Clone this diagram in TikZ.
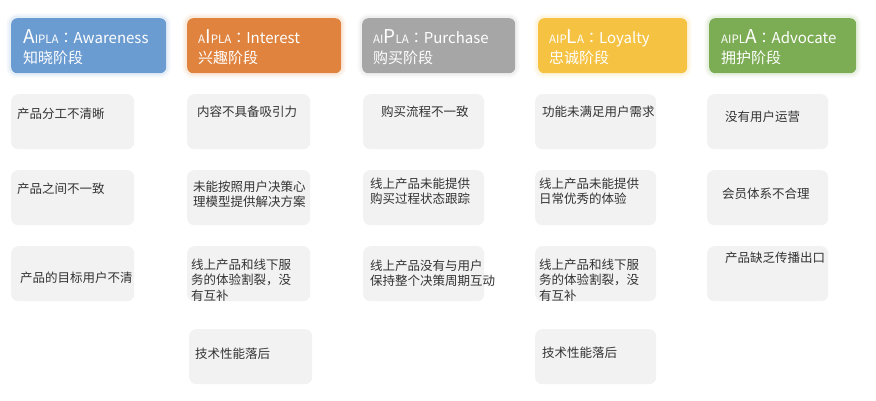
\documentclass[tikz,border=0pt]{standalone}
\usepackage{fontspec}
\setmainfont{Noto Sans CJK SC}
\newfontfamily\colonfont{Noto Sans CJK TC}
\usepackage{tikz}
\usetikzlibrary{positioning}
\definecolor{awareblue}{HTML}{6A9BD1}
\definecolor{interestorange}{HTML}{E0833F}
\definecolor{purchasegray}{HTML}{A6A6A6}
\definecolor{loyaltyyellow}{HTML}{F5C242}
\definecolor{advocategreen}{HTML}{7CAD54}
\definecolor{issuegray}{HTML}{F2F2F2}
\newcommand{\stagebig}[1]{{\fontsize{19}{20}\selectfont #1}}
\newcommand{\stagesmall}[1]{{\fontsize{11.5}{20}\selectfont #1}}
\newcommand{\stagecolon}{{\colonfont ：}}

\begin{document}
\begin{tikzpicture}[x=1pt,y=-1pt]

		\tikzset{%
			stage/.style     = {rectangle, rounded corners=6pt, fill=#1, minimum height=55pt,
				anchor=north west, inner sep=0,
				preaction={draw=#1, line width=9pt, opacity=.07},
				preaction={draw=#1, line width=5pt, opacity=.10}}, % Phase
			issue/.style     = {rectangle, rounded corners=7pt, fill=issuegray, minimum width=123pt,
				minimum height=55pt, anchor=north west, inner sep=0}, % Problem
			stagetext/.style = {anchor=north west, inner sep=0, align=left, text=white,
				font=\fontsize{15}{20}\selectfont},
			issuetext/.style = {anchor=north west, inner sep=0, align=left, text=black!80,
				font=\fontsize{12.5}{15.7}\selectfont}
		}

		\useasboundingbox (0,0) rectangle (876,400);

		% Phasen
		\node[stage=awareblue, minimum width=155pt] (aware) at (11,18) {};
		\node[stage=interestorange, minimum width=154pt] (interest) at (187,18) {};
		\node[stage=purchasegray, minimum width=153pt] (purchase) at (362,18) {};
		\node[stage=loyaltyyellow, minimum width=149pt] (loyalty) at (538,18) {};
		\node[stage=advocategreen, minimum width=147pt] (advocate) at (709,18) {};

		\node[stagetext] (awaretxt) at (23,29) {\stagebig{A}\stagesmall{IPLA}\stagecolon Awareness\\知晓阶段};
		\node[stagetext] (interesttxt) at (198,29) {\stagesmall{A}\stagebig{I}\stagesmall{PLA}\stagecolon Interest\\兴趣阶段};
		\node[stagetext] (purchasetxt) at (373,29) {\stagesmall{AI}\stagebig{P}\stagesmall{LA}\stagecolon Purchase\\购买阶段};
		\node[stagetext] (loyaltytxt) at (549,29) {\stagesmall{AIP}\stagebig{L}\stagesmall{A}\stagecolon Loyalty\\忠诚阶段};
		\node[stagetext] (advocatetxt) at (721,29) {\stagesmall{AIPL}\stagebig{A}\stagecolon Advocate\\拥护阶段};

		% Probleme
		\node[issue] (aware1) at (11,94) {};
		\node[issue] (aware2) at (11,170) {};
		\node[issue] (aware3) at (11,246) {};
		\node[issue] (interest1) at (187,94) {};
		\node[issue] (interest2) at (187,170) {};
		\node[issue] (interest3) at (187,246) {};
		\node[issue] (interest4) at (189,329) {};
		\node[issue, minimum width=121pt] (purchase1) at (363,94) {};
		\node[issue, minimum width=121pt] (purchase2) at (363,170) {};
		\node[issue, minimum width=121pt] (purchase3) at (363,246) {};
		\node[issue, minimum width=121pt] (loyalty1) at (535,94) {};
		\node[issue, minimum width=121pt] (loyalty2) at (535,170) {};
		\node[issue, minimum width=121pt] (loyalty3) at (535,246) {};
		\node[issue, minimum width=121pt] (loyalty4) at (535,329) {};
		\node[issue, minimum width=121pt] (advocate1) at (707,94) {};
		\node[issue, minimum width=121pt] (advocate2) at (707,170) {};
		\node[issue, minimum width=121pt] (advocate3) at (707,246) {};

		\node[issuetext] (aware1txt) at (17,107.5) {产品分工不清晰};
		\node[issuetext] (aware2txt) at (17,182.5) {产品之间不一致};
		\node[issuetext] (aware3txt) at (20,271.5) {产品的目标用户不清};
		\node[issuetext] (interest1txt) at (197,105.5) {内容不具备吸引力};
		\node[issuetext] (interest2txt) at (193,180.5) {未能按照用户决策心\\理模型提供解决方案};
		\node[issuetext] (interest3txt) at (191,258.5) {线上产品和线下服\\务的体验割裂，没\\有互补};
		\node[issuetext] (interest4txt) at (195,347.5) {技术性能落后};
		\node[issuetext] (purchase1txt) at (381,105.5) {购买流程不一致};
		\node[issuetext] (purchase2txt) at (370,177.5) {线上产品未能提供\\购买过程状态跟踪};
		\node[issuetext] (purchase3txt) at (370,259.5) {线上产品没有与用户\\保持整个决策周期互动};
		\node[issuetext] (loyalty1txt) at (542,105.5) {功能未满足用户需求};
		\node[issuetext] (loyalty2txt) at (539,177.5) {线上产品未能提供\\日常优秀的体验};
		\node[issuetext] (loyalty3txt) at (539,258.5) {线上产品和线下服\\务的体验割裂，没\\有互补};
		\node[issuetext] (loyalty4txt) at (542,346.5) {技术性能落后};
		\node[issuetext] (advocate1txt) at (725,110.5) {没有用户运营};
		\node[issuetext] (advocate2txt) at (722,187.5) {会员体系不合理};
		\node[issuetext] (advocate3txt) at (725,251.5) {产品缺乏传播出口};

\end{tikzpicture}
\end{document}
